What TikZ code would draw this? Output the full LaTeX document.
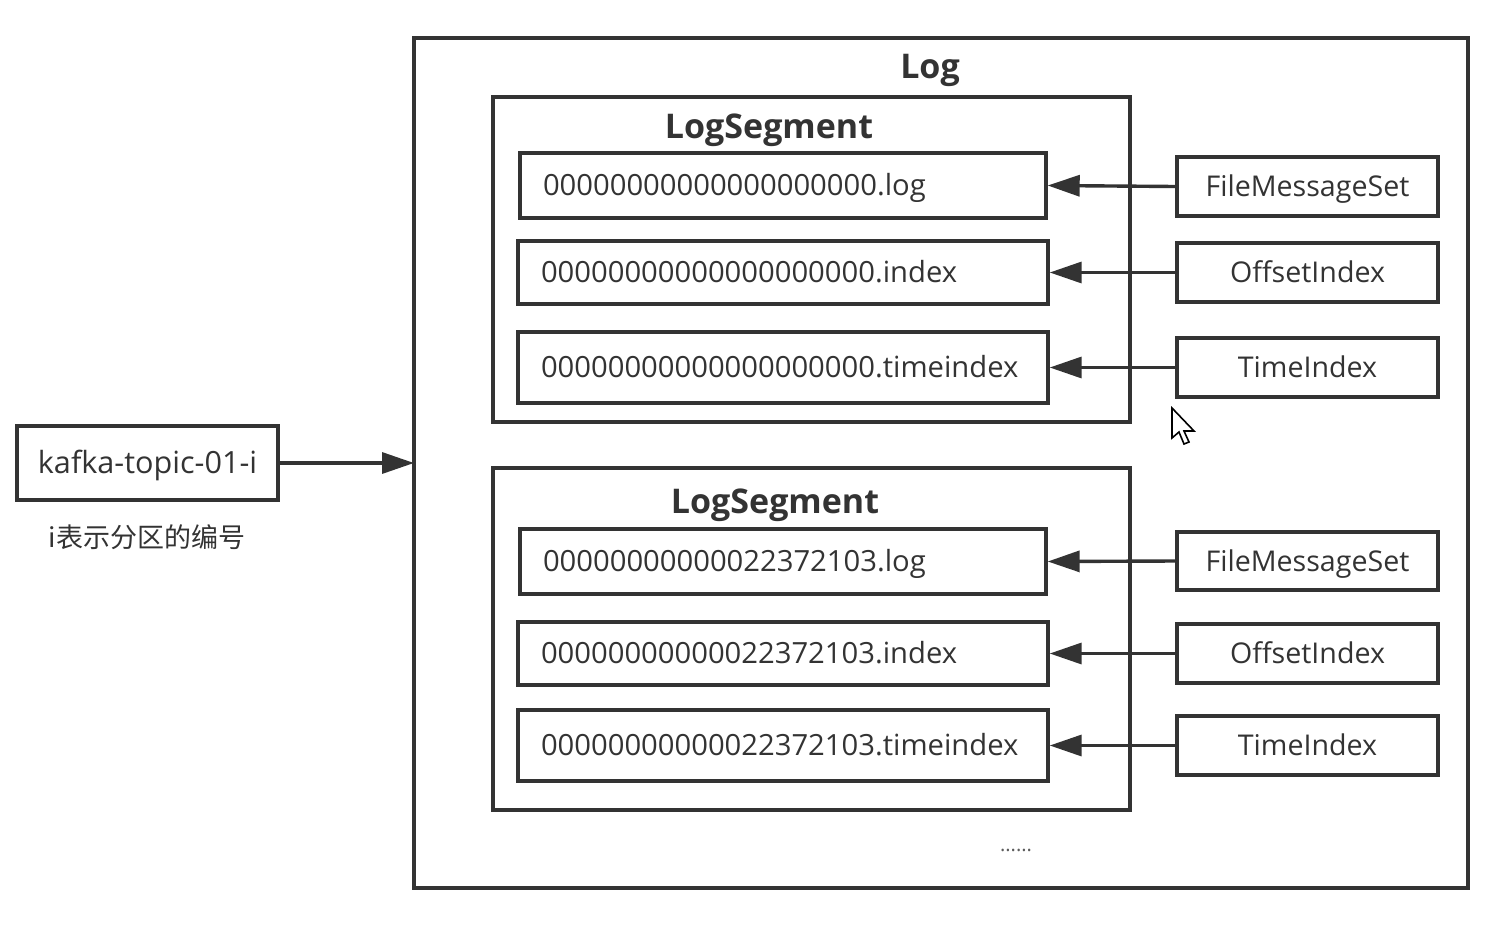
\documentclass[tikz,border=0pt]{standalone}
\usepackage{fontspec}
\setmainfont{Open Sans}
\newfontfamily\cjk{Noto Sans CJK SC}
\usetikzlibrary{arrows.meta}
\definecolor{ink}{HTML}{333333}
\tikzset{
  box/.style={draw=ink, line width=1.7pt, text=ink, inner sep=0pt, text height=10pt, text depth=0pt},
  filebox/.style={box, font=\fontsize{14.6}{16}\selectfont, inner xsep=11.5pt, align=left},
  tagbox/.style={box, font=\fontsize{14.3}{16}\selectfont, minimum width=130.5pt},
  frame/.style={draw=ink, line width=1.7pt},
  ttl/.style={text=ink, font=\fontsize{17}{19}\selectfont\bfseries, text height=12pt, text depth=0pt, inner sep=0pt},
  arr/.style={draw=ink, line width=1.7pt, -{Triangle[length=16pt,width=10.5pt]}},
}
\begin{document}
\begin{tikzpicture}[x=0.5pt,y=-0.5pt]
\useasboundingbox (0,0) rectangle (1495,927);
% frames
\draw[frame] (414,38) rectangle (1468,888);
\node[ttl] (logtitle) at (930,66) {Log};
\draw[frame] (493,97) rectangle (1130,422);
\node[ttl] (segtitle1) at (769,126) {LogSegment};
\draw[frame] (493,468) rectangle (1130,810);
\node[ttl] (segtitle2) at (775,501) {LogSegment};
\coordinate (logwest) at (414,463);
% segment 1 files
\node[filebox, text width=240pt, minimum height=32.5pt] (f1) at (783,185.5) {00000000000000000000.log};
\node[filebox, text width=242pt, minimum height=31.5pt] (f2) at (783,272.5) {00000000000000000000.index};
\node[filebox, text width=242pt, minimum height=35.5pt] (f3) at (783,367.5) {00000000000000000000.timeindex};
% segment 2 files
\node[filebox, text width=240pt, minimum height=32.5pt] (f4) at (783,561.5) {00000000000022372103.log};
\node[filebox, text width=242pt, minimum height=31.5pt] (f5) at (783,653.5) {00000000000022372103.index};
\node[filebox, text width=242pt, minimum height=35.5pt] (f6) at (783,745.5) {00000000000022372103.timeindex};
% tags
\node[tagbox, minimum height=29.5pt] (r1) at (1307.5,186.5) {FileMessageSet};
\node[tagbox, minimum height=29.5pt] (r2) at (1307.5,272.5) {OffsetIndex};
\node[tagbox, minimum height=29.5pt] (r3) at (1307.5,367.5) {TimeIndex};
\node[tagbox, minimum height=29pt] (r4) at (1307.5,561) {FileMessageSet};
\node[tagbox, minimum height=29.5pt] (r5) at (1307.5,653.5) {OffsetIndex};
\node[tagbox, minimum height=29.5pt] (r6) at (1307.5,745.5) {TimeIndex};
\foreach \i in {1,...,6} {\draw[arr] (r\i.west) -- (f\i.east);}
% partition
\node[box, minimum width=130.5pt, minimum height=37pt, font=\fontsize{15.3}{17}\selectfont] (kafka) at (147.5,463) {kafka-topic-01-i};
\node[text=ink, font=\cjk\fontsize{13.5}{16}\selectfont] (caption) at (147,537) {i表示分区的编号};
\draw[arr] (kafka.east) -- (logwest);
% ellipsis
\node[text=ink!80, font=\fontsize{10}{10}\selectfont, inner sep=0pt] (dots) at (1016,850) {......};
% mouse cursor
\draw[black, line width=0.8pt, fill=white, line join=miter] (1172,408) -- (1172,438) -- (1179,432) -- (1184,444) -- (1189,442) -- (1184,431) -- (1194,431) -- cycle;
\end{tikzpicture}
\end{document}
